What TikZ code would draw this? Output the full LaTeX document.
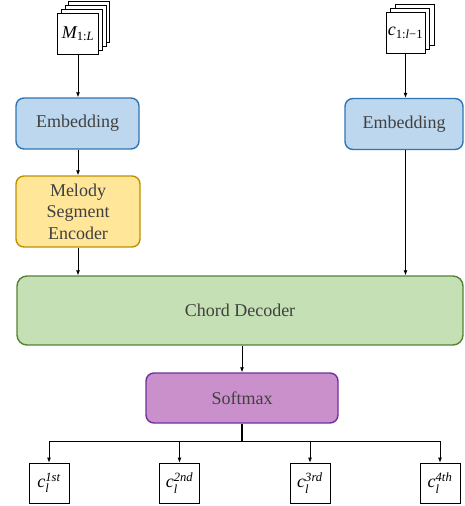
\documentclass[tikz,border=0pt]{standalone}
\usepackage{amsmath}
\usepackage{fontspec}
\setmainfont{Liberation Serif}
\usetikzlibrary{arrows.meta}
\definecolor{txt}{HTML}{404040}
\definecolor{bfill}{HTML}{BDD7EE}\definecolor{bdraw}{HTML}{2E75B6}
\definecolor{yfill}{HTML}{FFE699}\definecolor{ydraw}{HTML}{BF9000}
\definecolor{gfill}{HTML}{C5E0B4}\definecolor{gdraw}{HTML}{548235}
\definecolor{pfill}{HTML}{C990CB}\definecolor{pdraw}{HTML}{7030A0}
\tikzset{
  rbox/.style={draw, rounded corners=8pt, line width=1.4pt, text=txt, align=center,
    font=\fontsize{18}{21.5}\selectfont, inner sep=0pt},
  page/.style={draw, fill=white, line width=0.8pt, minimum width=41pt, minimum height=41pt, inner sep=0pt, font=\fontsize{18}{20}\selectfont},
  outbox/.style={draw, fill=white, line width=0.8pt, minimum width=40pt, minimum height=40pt, inner sep=0pt, font=\fontsize{18}{20}\selectfont},
  arr/.style={-{Latex[length=5pt,width=4pt]}, line width=0.8pt},
  ln/.style={line width=0.8pt}
}
\begin{document}
\begin{tikzpicture}[x=1pt,y=-1pt]
\useasboundingbox (0,0) rectangle (464,506);
% M stack
\foreach \k in {3,2,1} \node[page] at (78+3.7*\k,33.5-4*\k) {};
\node[page] (mst) at (78,33.5) {$\textit{M}_{\text{1:}\textit{L}}$};
% c stack
\foreach \k in {2,1} \node[page, minimum width=39pt] at (405.5+4.5*\k,32.5-4*\k) {};
\node[page, minimum width=39pt] (cst) at (405.5,32.5) {$\textit{c}_{\text{1:}\textit{l}\text{−1}}$};
% boxes
\node[rbox, fill=bfill, draw=bdraw, minimum width=123pt, minimum height=51pt] (emb1) at (77.5,123.5) {Embedding};
\node[rbox, fill=bfill, draw=bdraw, minimum width=118pt, minimum height=51pt] (emb2) at (404,124) {Embedding};
\node[rbox, fill=yfill, draw=ydraw, minimum width=124pt, minimum height=71pt] (mse) at (78,211.5) {Melody\\Segment\\Encoder};
\node[rbox, fill=gfill, draw=gdraw, rounded corners=10pt, minimum width=446pt, minimum height=69pt] (cd) at (240,310.5) {Chord Decoder};
\node[rbox, fill=pfill, draw=pdraw, minimum width=192pt, minimum height=50pt] (sm) at (242,398) {Softmax};
% outputs
\node[outbox] (o1) at (49,483) {$\textit{c}_{\textit{l}}^{\textit{1st}}$};
\node[outbox] (o2) at (179.5,483) {$\textit{c}_{\textit{l}}^{\textit{2nd}}$};
\node[outbox] (o3) at (310,483) {$\textit{c}_{\textit{l}}^{\textit{3rd}}$};
\node[outbox] (o4) at (440,483) {$\textit{c}_{\textit{l}}^{\textit{4th}}$};
% connectors
\draw[arr] (mst.south) -- (emb1.north -| mst.south);
\draw[arr] (emb1.south -| mst.south) -- (mse.north -| mst.south);
\draw[arr] (mse.south -| mst.south) -- (cd.north -| mst.south);
\draw[arr] (cst.south) -- (emb2.north -| cst.south);
\draw[arr] (emb2.south -| cst.south) -- (cd.north -| cst.south);
\draw[arr] (cd.south -| sm.north) -- (sm.north);
\coordinate (br) at (242,441);
\draw[ln, line width=1.2pt] (sm.south) -- (br);
\draw[ln] (br -| o1.north) -- (br -| o4.north);
\foreach \o in {o1,o2,o3,o4} \draw[arr] (br -| \o.north) -- (\o.north);
\end{tikzpicture}
\end{document}
